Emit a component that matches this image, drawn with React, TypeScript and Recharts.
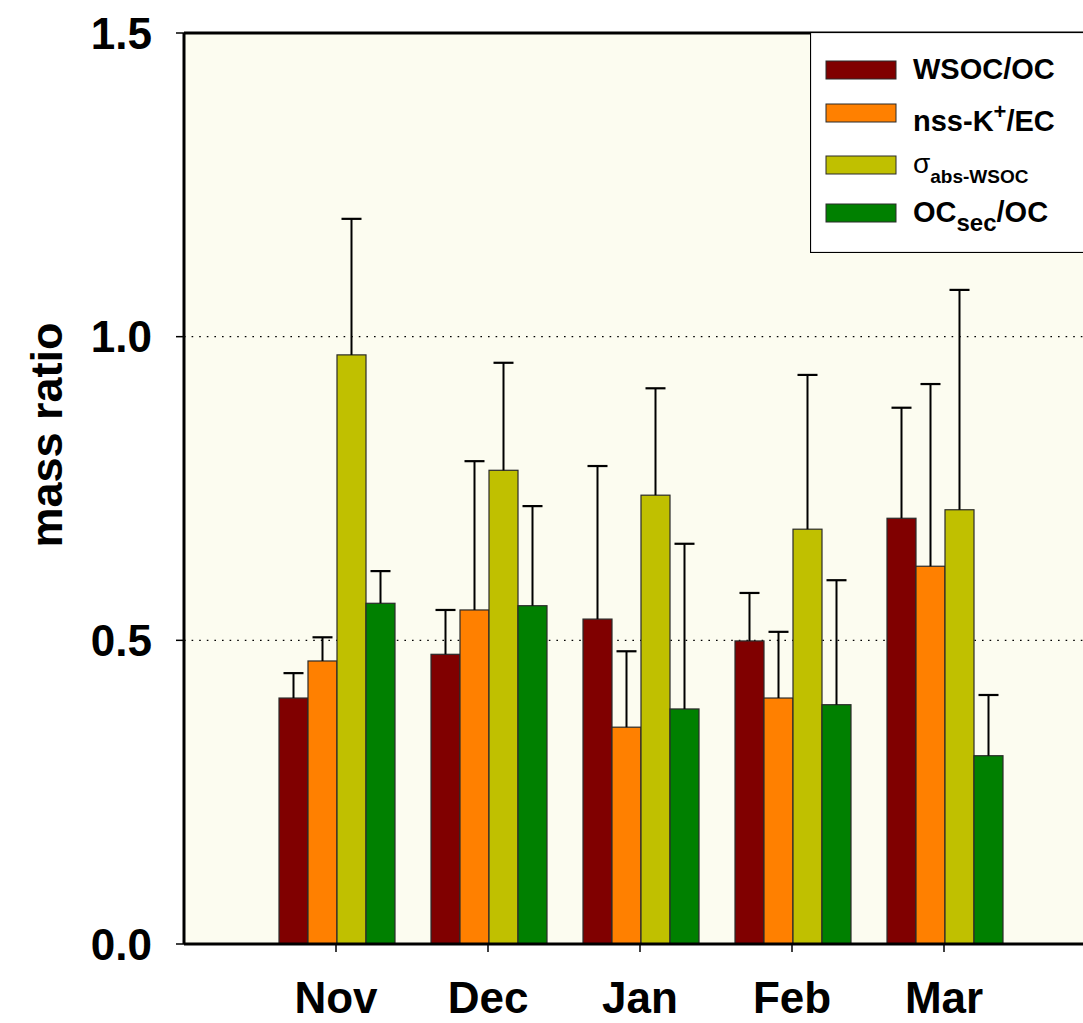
import React from 'react';
import { BarChart, Bar, XAxis, YAxis, CartesianGrid, ReferenceLine, Legend } from 'recharts';

const months = ['Nov', 'Dec', 'Jan', 'Feb', 'Mar'];
const wsocOc = [0.405, 0.477, 0.535, 0.499, 0.701];
const wsocOcErr = [0.041, 0.073, 0.252, 0.079, 0.182];
const nssKEc = [0.466, 0.550, 0.357, 0.405, 0.622];
const nssKEcErr = [0.039, 0.245, 0.125, 0.109, 0.300];
const sigmaAbs = [0.970, 0.780, 0.739, 0.683, 0.715];
const sigmaAbsErr = [0.224, 0.177, 0.176, 0.254, 0.362];
const ocSecOc = [0.561, 0.557, 0.387, 0.394, 0.310];
const ocSecOcErr = [0.053, 0.164, 0.272, 0.205, 0.100];
const yTicks = [0, 0.5, 1.0, 1.5];

const colors = { wsoc: '#800000', nssk: '#FF8000', sigma: '#C0C000', ocsec: '#008000' };

const data = months.map((m, i) => ({
  month: m,
  wsoc: wsocOc[i], wsocErr: wsocOcErr[i],
  nssk: nssKEc[i], nsskErr: nssKEcErr[i],
  sigma: sigmaAbs[i], sigmaErr: sigmaAbsErr[i],
  ocsec: ocSecOc[i], ocsecErr: ocSecOcErr[i],
}));

const FONT = '"Liberation Sans", Arial, sans-serif';

const makeShape = (key: string) => (props: any) => {
  const { x, y, width, height, fill, payload } = props;
  const val = payload[key];
  const err = payload[key + 'Err'];
  const pxPerUnit = val ? height / val : 0;
  const errPx = err * pxPerUnit;
  const cx = x + width / 2;
  return (
    <g>
      <rect x={x} y={y} width={width} height={height} fill={fill} stroke="#2a2a2a" strokeWidth={1.2} />
      <line x1={cx} y1={y} x2={cx} y2={y - errPx} stroke="#000" strokeWidth={2} />
      <line x1={cx - 10} y1={y - errPx} x2={cx + 10} y2={y - errPx} stroke="#000" strokeWidth={2.2} />
    </g>
  );
};

const LegendBox = () => {
  const rows = [
    { c: colors.wsoc, sy: 29 },
    { c: colors.nssk, sy: 72 },
    { c: colors.sigma, sy: 124 },
    { c: colors.ocsec, sy: 172 },
  ];
  return (
    <svg width={300} height={221} style={{ display: 'block' }}>
      <rect x={0.5} y={0.5} width={310} height={220} fill="#ffffff" stroke="#000" strokeWidth={1.2} />
      {rows.map((r, i) => (
        <rect key={i} x={16} y={r.sy} width={70} height={18} fill={r.c} stroke="#2a2a2a" strokeWidth={1} />
      ))}
      <g fontFamily={FONT} fontWeight="bold" fill="#000">
        <text x={103} y={47} fontSize={29}>WSOC/OC</text>
        <text x={103} y={99} fontSize={29}>
          nss-K<tspan dy={-12} fontSize={22}>+</tspan><tspan dy={12}>/EC</tspan>
        </text>
        <text x={103} y={141} fontSize={28} fontWeight="normal">
          σ<tspan dy={10} fontSize={19} fontWeight="bold">abs-WSOC</tspan>
        </text>
        <text x={103} y={190} fontSize={29}>
          OC<tspan dy={9} fontSize={24}>sec</tspan><tspan dy={-9}>/OC</tspan>
        </text>
      </g>
    </svg>
  );
};

const YLabel = () => (
  <text x={46} y={435} transform="rotate(-90, 46, 435)" textAnchor="middle" dominantBaseline="central"
    fontFamily={FONT} fontWeight="bold" fontSize={45} fill="#000">mass ratio</text>
);

export default function App() {
  return (
    <div style={{ position: 'absolute', left: 0, top: 0, width: 1083, height: 1023, overflow: 'hidden', background: '#fff' }}>
      <BarChart width={1096} height={1023} data={data} margin={{ top: 33, right: 0, bottom: 0, left: 100 }}
        barCategoryGap={19} barGap={0}>
        <CartesianGrid vertical={false} fill="#FCFCF0" stroke="#000" strokeDasharray="1.6 6" strokeWidth={1.4} />
        <XAxis dataKey="month" padding={{ left: 76, right: 76 }} height={79}
          axisLine={{ stroke: '#000', strokeWidth: 3 }} tickLine={{ stroke: '#000', strokeWidth: 1.5 }}
          tickSize={8} tickMargin={30}
          tick={{ fontSize: 44, fontWeight: 'bold', fill: '#000', fontFamily: FONT }} />
        <YAxis domain={[0, 1.5]} ticks={yTicks} width={84} tickSize={8} tickMargin={24}
          tickFormatter={(v: number) => v.toFixed(1)} interval={0}
          axisLine={{ stroke: '#000', strokeWidth: 3 }} tickLine={{ stroke: '#000', strokeWidth: 1.5 }}
          tick={{ fontSize: 44, fontWeight: 'bold', fill: '#000', fontFamily: FONT }}
          label={{ content: () => <YLabel /> }} />
        <ReferenceLine y={1.5} stroke="#000" strokeWidth={3} />
        <Bar dataKey="wsoc" name="WSOC/OC" fill={colors.wsoc} isAnimationActive={false} shape={makeShape('wsoc')} />
        <Bar dataKey="nssk" name="nss-K+/EC" fill={colors.nssk} isAnimationActive={false} shape={makeShape('nssk')} />
        <Bar dataKey="sigma" name="σabs-WSOC" fill={colors.sigma} isAnimationActive={false} shape={makeShape('sigma')} />
        <Bar dataKey="ocsec" name="OCsec/OC" fill={colors.ocsec} isAnimationActive={false} shape={makeShape('ocsec')} />
        <Legend layout="horizontal" verticalAlign="middle" align="center" content={() => <LegendBox />}
          wrapperStyle={{ position: 'absolute', left: 810, top: 32, width: 300, height: 221 }} />
      </BarChart>
    </div>
  );
}
